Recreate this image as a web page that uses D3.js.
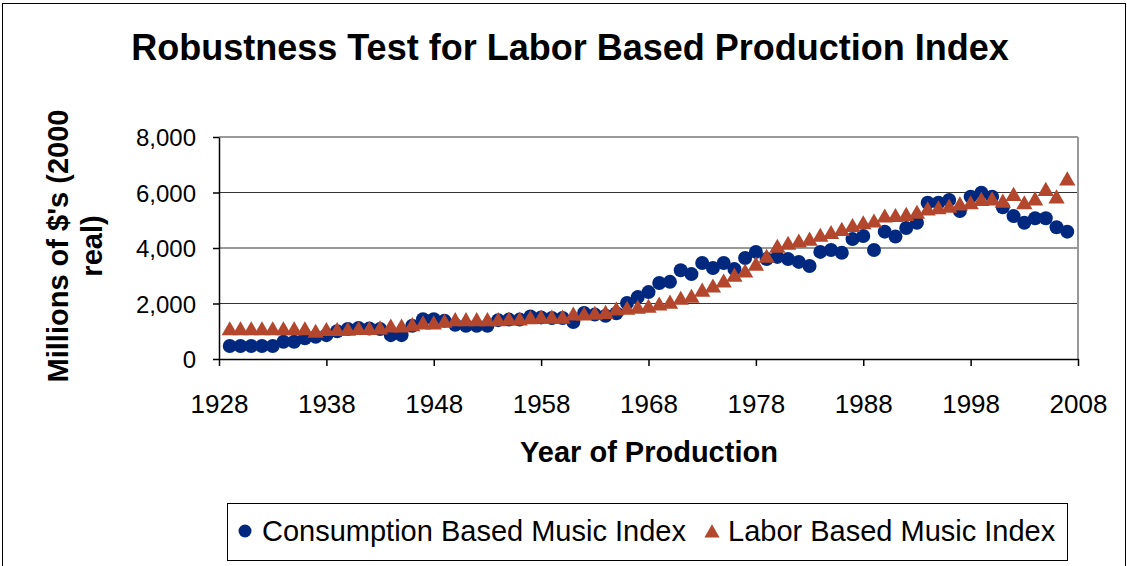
<!DOCTYPE html>
<meta charset="utf-8">
<style>
    body { margin: 0; background: #fff; }
    text { font-family: "Liberation Sans", Arial, sans-serif; fill: #000; }
    .title { font-size: 36px; font-weight: bold; }
    .axis-title { font-size: 29px; font-weight: bold; }
    .x-axis .tick text { font-size: 26px; }
    .y-axis .tick text { font-size: 24px; }
    .legend text { font-size: 29px; }
</style>
<body>
<script src="https://cdnjs.cloudflare.com/ajax/libs/d3/7.8.5/d3.min.js"></script>
<script>

    var years = d3.range(1929, 2008);

    var consumption = [
        470, 470, 470, 470, 470, 620, 620, 750, 800, 860,
        1000, 1080, 1120, 1100, 1080, 860, 860, 1200, 1430, 1430,
        1380, 1230, 1200, 1200, 1200, 1400, 1420, 1420, 1530, 1500,
        1480, 1480, 1330, 1660, 1600, 1560, 1650, 2020, 2230, 2410,
        2740, 2780, 3200, 3060, 3460, 3280, 3460, 3240, 3640, 3860,
        3600, 3680, 3600, 3500, 3350, 3860, 3930, 3830, 4320, 4430,
        3930, 4590, 4410, 4720, 4910, 5630, 5630, 5730, 5330, 5850,
        5990, 5850, 5470, 5150, 4910, 5070, 5070, 4750, 4590
    ];

    var labor = [
        1060, 1060, 1060, 1060, 1060, 1060, 1060, 1060, 970, 1030,
        1030, 1040, 1070, 1070, 1090, 1160, 1160, 1210, 1270, 1270,
        1330, 1390, 1390, 1390, 1390, 1390, 1410, 1410, 1460, 1480,
        1480, 1480, 1590, 1590, 1620, 1650, 1770, 1800, 1840, 1870,
        1950, 2020, 2160, 2230, 2450, 2600, 2780, 2990, 3140, 3390,
        3670, 4030, 4140, 4220, 4290, 4430, 4530, 4640, 4780, 4880,
        4940, 5120, 5140, 5180, 5260, 5380, 5420, 5480, 5560, 5600,
        5720, 5740, 5660, 5900, 5600, 5740, 6080, 5810, 6460
    ];

    var xTicks = [1928, 1938, 1948, 1958, 1968, 1978, 1988, 1998, 2008];
    var yTicks = [0, 2000, 4000, 6000, 8000];
    var seriesNames = ["Consumption Based Music Index", "Labor Based Music Index"];

    var blue = "#00287f", red = "#b3472d";

    var W = 1127, H = 566;
    var plot = {left: 219, top: 137, right: 1078, bottom: 359};

    var x = d3.scaleLinear().domain([1928, 2008]).range([plot.left, plot.right]);
    var y = d3.scaleLinear().domain([0, 8000]).range([plot.bottom, plot.top]);

    var svg = d3.select("body").append("svg")
            .attr("width", W)
            .attr("height", H);

    // outer chart border
    svg.append("rect")
            .attr("x", 2.5).attr("y", 3.5)
            .attr("width", W - 4).attr("height", H + 10)
            .attr("fill", "none").attr("stroke", "#000").attr("stroke-width", 1);

    svg.append("text")
            .attr("class", "title")
            .attr("x", 570).attr("y", 60)
            .attr("text-anchor", "middle")
            .text("Robustness Test for Labor Based Production Index");

    // gridlines
    svg.append("g").selectAll("line")
            .data(yTicks.filter(function(d) { return d > 0; }))
        .enter().append("line")
            .attr("x1", plot.left).attr("x2", plot.right)
            .attr("y1", function(d) { return y(d); })
            .attr("y2", function(d) { return y(d); })
            .attr("stroke", function(d) { return d === 8000 ? "#999" : "#333"; })
            .attr("stroke-width", function(d) { return d === 8000 ? 2 : 1; });

    // right border of plot area
    svg.append("line")
            .attr("x1", plot.right).attr("x2", plot.right)
            .attr("y1", plot.top).attr("y2", plot.bottom)
            .attr("stroke", "#999").attr("stroke-width", 2);

    var xAxis = d3.axisBottom(x).tickValues(xTicks).tickFormat(d3.format("d"))
            .tickSizeInner(7).tickSizeOuter(0);
    var yAxis = d3.axisLeft(y).tickValues(yTicks).tickFormat(d3.format(","))
            .tickSizeInner(6).tickSizeOuter(0).tickPadding(17);

    var gx = svg.append("g")
            .attr("class", "x-axis")
            .attr("transform", "translate(0," + plot.bottom + ")")
            .call(xAxis);
    var gy = svg.append("g")
            .attr("class", "y-axis")
            .attr("transform", "translate(" + plot.left + ",0)")
            .call(yAxis);
    [gx, gy].forEach(function(g) {
        g.attr("font-family", null).attr("font-size", null);
        g.selectAll("path, line").attr("stroke", "#000").attr("stroke-width", 1.5);
    });
    gx.selectAll(".tick text").attr("y", 54).attr("dy", 0);
    gy.selectAll(".tick text").attr("dy", "0.36em");

    svg.append("text")
            .attr("class", "axis-title")
            .attr("x", 649).attr("y", 462)
            .attr("text-anchor", "middle")
            .text("Year of Production");

    var yt = svg.append("text")
            .attr("class", "axis-title")
            .attr("transform", "translate(68,246) rotate(-90)")
            .attr("text-anchor", "middle");
    yt.append("tspan").attr("x", 0).attr("dy", 0).text("Millions of $'s (2000");
    yt.append("tspan").attr("x", 0).attr("dy", 34).text("real)");

    var tri = d3.symbol().type(d3.symbolTriangle).size(115);

    svg.append("g").selectAll("circle")
            .data(consumption)
        .enter().append("circle")
            .attr("cx", function(d, i) { return x(years[i]); })
            .attr("cy", function(d) { return y(d); })
            .attr("r", 7)
            .attr("fill", blue);

    svg.append("g").selectAll("path")
            .data(labor)
        .enter().append("path")
            .attr("d", tri)
            .attr("transform", function(d, i) { return "translate(" + x(years[i]) + "," + (y(d) + 1) + ")"; })
            .attr("fill", red);

    // legend
    var lg = svg.append("g").attr("class", "legend");
    lg.append("rect")
            .attr("x", 227.5).attr("y", 503.5)
            .attr("width", 840).attr("height", 57)
            .attr("fill", "#fff").attr("stroke", "#000").attr("stroke-width", 1);
    lg.append("circle")
            .attr("cx", 245).attr("cy", 531).attr("r", 6.5).attr("fill", blue);
    lg.append("text").attr("x", 262).attr("y", 541).text(seriesNames[0]);
    lg.append("path")
            .attr("d", d3.symbol().type(d3.symbolTriangle).size(100))
            .attr("transform", "translate(712,533)")
            .attr("fill", red);
    lg.append("text").attr("x", 728).attr("y", 541).text(seriesNames[1]);

</script>
